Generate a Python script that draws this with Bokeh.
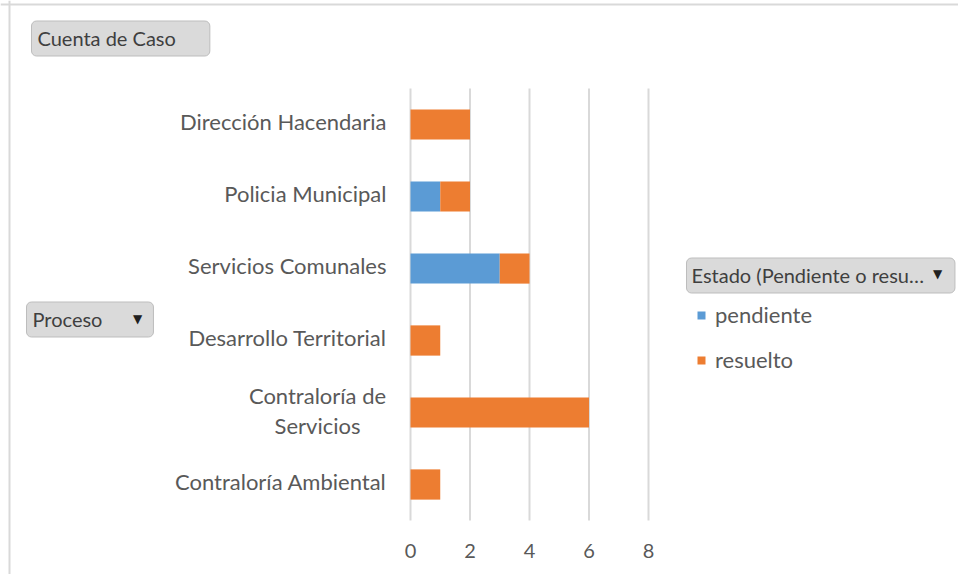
from bokeh.plotting import figure
from bokeh.models import ColumnDataSource, Label, Legend, LegendItem, Range1d, Span
from bokeh.core.properties import value
from bokeh.embed import file_html
from bokeh.resources import INLINE

# categories listed bottom to top
procesos = ["Contraloría Ambiental", "Contraloría de Servicios", "Desarrollo Territorial",
            "Servicios Comunales", "Policia Municipal", "Dirección Hacendaria"]
etiquetas = ["Contraloría Ambiental", "Contraloría de\nServicios", "Desarrollo Territorial",
             "Servicios Comunales", "Policia Municipal", "Dirección Hacendaria"]
pendiente = [0, 0, 0, 3, 1, 0]
resuelto = [1, 6, 1, 1, 1, 2]
estados = ["pendiente", "resuelto"]
colores = ["#5B9BD5", "#ED7D31"]
ticks = [0, 2, 4, 6, 8]

FONT = "Lato"
GRAY = "#595959"

# canvas geometry (pixels)
W, H = 958, 574
PLOT_L, PLOT_R, PLOT_T, PLOT_B = 410, 648, 88, 520
n = len(procesos)
xmin, xmax = ticks[0], ticks[-1]
ux = (PLOT_R - PLOT_L) / (xmax - xmin)
uy = (PLOT_B - PLOT_T) / n
x_range = Range1d(xmin - PLOT_L / ux, xmax + (W - PLOT_R) / ux)
y_range = Range1d(-0.5 - (H - PLOT_B) / uy, n - 0.5 + PLOT_T / uy)

pos = list(range(n))
source = ColumnDataSource(dict(pos=pos, proceso=procesos, etiqueta=etiquetas,
                               pendiente=pendiente, resuelto=resuelto, x0=[0] * n))

p = figure(width=W, height=H, x_range=x_range, y_range=y_range,
           output_backend="svg", toolbar_location=None,
           x_axis_location=None, y_axis_location=None,
           min_border=0)
p.outline_line_color = None
p.grid.visible = False
p.background_fill_color = "white"
p.border_fill_color = "white"

# chart border (left and top edges)
p.add_layout(Span(location=9, location_units="screen", dimension="height",
                  line_color="#d9d9d9", line_width=2))
p.add_layout(Span(location=H - 4, location_units="screen", dimension="width",
                  line_color="#d9d9d9", line_width=2))

# vertical gridlines at ticks
gsrc = ColumnDataSource(dict(x=ticks, y0=[-0.5] * len(ticks), y1=[n - 0.5] * len(ticks),
                             lab=[str(t) for t in ticks]))
p.segment(x0="x", y0="y0", x1="x", y1="y1", source=gsrc, line_color="#d9d9d9", line_width=2)
p.text(x="x", y="y0", text="lab", source=gsrc, y_offset=30, text_align="center",
       text_baseline="middle", text_font=value(FONT), text_font_size="20px", text_color=GRAY)

rs = p.hbar_stack(estados, y="pos", height=0.42, color=colores, line_color=None, source=source)

# category labels
single = [i for i, e in enumerate(etiquetas) if "\n" not in e]
multi = [i for i, e in enumerate(etiquetas) if "\n" in e]
s1 = ColumnDataSource(dict(y=[pos[i] for i in single], t=[etiquetas[i] for i in single], x=[0] * len(single)))
s2 = ColumnDataSource(dict(y=[pos[i] for i in multi], t=[etiquetas[i] for i in multi], x=[0] * len(multi)))
p.text(x="x", y="y", text="t", source=s1, x_offset=-24, y_offset=-3, text_align="right",
       text_baseline="middle", text_font=value(FONT), text_font_size="22px", text_color=GRAY)
p.text(x="x", y="y", text="t", source=s2, x_offset=-93, y_offset=-2, text_align="center",
       text_baseline="middle", text_font=value(FONT), text_font_size="22px", text_color=GRAY,
       text_line_height=1.1)

# legend
legend = Legend(items=[LegendItem(label=estados[i], renderers=[rs[i]]) for i in range(2)],
                location=(696, H - 373), padding=0, margin=0, spacing=18,
                glyph_width=10, glyph_height=10, label_height=26, label_standoff=9,
                label_text_font=FONT, label_text_font_size="22px", label_text_color=GRAY,
                border_line_color=None, background_fill_alpha=0)
p.add_layout(legend, "center")

# pivot field buttons
def button(text, left, ycenter, pad_l, pad_r):
    p.add_layout(Label(x=left, y=H - ycenter, x_units="screen", y_units="screen", text=text,
                       text_font=FONT, text_font_size="20px", text_color="#3f3f3f",
                       text_baseline="middle", text_align="left",
                       background_fill_color="#dadada", border_line_color="#bdbdbd",
                       border_radius=5, padding=dict(left=pad_l, right=pad_r, top=5, bottom=6)))

button("Cuenta de Caso", 31, 38, 6, 34)
button("Proceso", 26, 319, 6, 51)
button("Estado (Pendiente o resu…", 686, 275, 5, 31)
for xc, yc in [(137, 318), (937, 273)]:
    p.add_layout(Label(x=xc, y=H - yc, x_units="screen", y_units="screen", text="▼",
                       text_font="DejaVu Sans", text_font_size="12px", text_color="#202020",
                       text_baseline="middle", text_align="center"))

open("out.html", "w").write(file_html(p, INLINE))
